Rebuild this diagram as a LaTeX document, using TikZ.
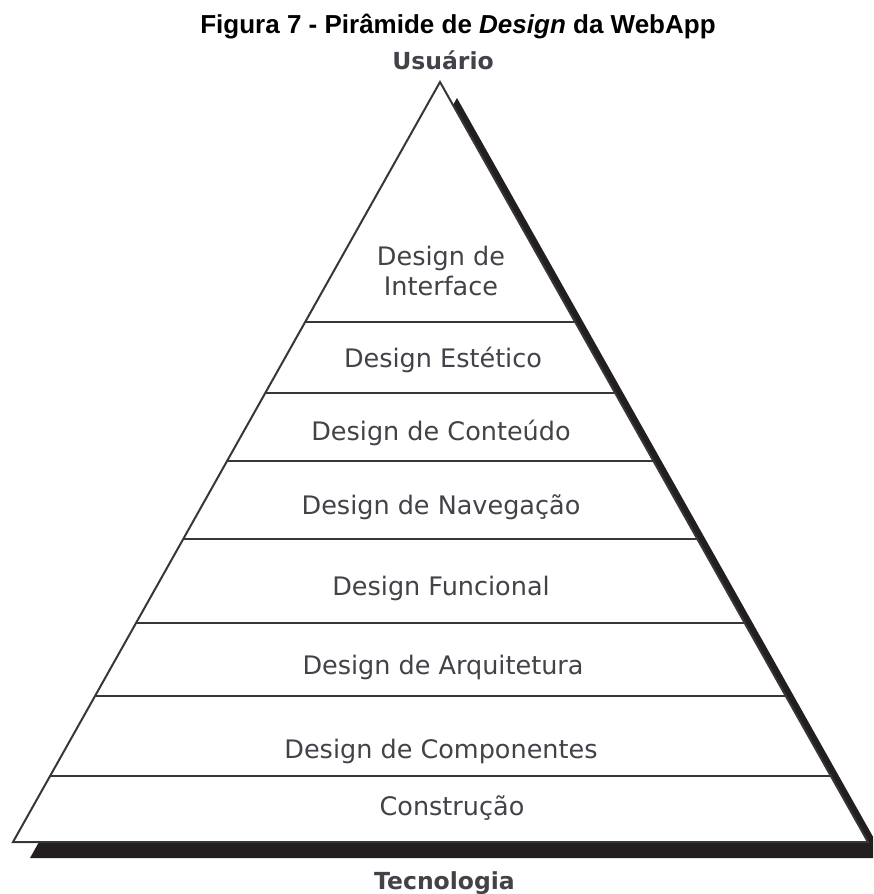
\documentclass[tikz,border=0pt]{standalone}
\usepackage{fontspec}
\usetikzlibrary{calc}
\newfontfamily\labfont{DejaVu Sans}
\newfontfamily\ttlfont{Liberation Sans}
\definecolor{txtgray}{RGB}{66,66,72}
\definecolor{linegray}{RGB}{55,55,55}
\definecolor{shadowblk}{RGB}{35,31,32}
\tikzset{
  layerlabel/.style={anchor=base, text=txtgray, inner sep=0pt, align=center,
    font=\labfont\fontsize{25.5}{29.5}\selectfont},
  endlabel/.style={anchor=base, text=txtgray, inner sep=0pt,
    font=\labfont\bfseries\fontsize{23.5}{28}\selectfont},
  titlelabel/.style={anchor=base, text=black, inner sep=0pt,
    font=\ttlfont\bfseries\fontsize{26}{30}\selectfont},
  divider/.style={draw=linegray, line width=2pt},
  pyramid/.style={draw=linegray, line width=2pt, fill=white, line join=miter},
  shadow/.style={fill=shadowblk, draw=none}
}
\begin{document}
\begin{tikzpicture}[x=1pt, y=-1pt]
\useasboundingbox (0,0) rectangle (873,894);
\begin{scope}
\clip (0,0) rectangle (873,894);
% corners
\coordinate (apex) at (440,82);
\coordinate (bl) at (13,842);
\coordinate (br) at (868,842);
% shadow
\fill[shadow] ($(apex)+(17,16)$) -- ($(bl)+(17,16)$) -- ($(br)+(17,16)$) -- cycle;
% pyramid
\draw[pyramid] (apex) -- (bl) -- (br) -- cycle;
% dividers
\foreach \t [count=\i] in {0.3158,0.4092,0.4987,0.6013,0.7118,0.8079,0.9132}{
  \coordinate (l\i) at ($(apex)!\t!(bl)$);
  \coordinate (r\i) at ($(apex)!\t!(br)$);
  \draw[divider] (l\i) -- (r\i);
}
\end{scope}
% labels
\node[titlelabel] (title) at (458,33) {Figura 7 - Pirâmide de \textit{Design} da WebApp};
\node[endlabel] (user) at (443,69) {Usuário};
\node[endlabel] (tech) at (444.5,889) {Tecnologia};
\node[layerlabel] (interface) at (441,295) {Design de\\Interface};
\node[layerlabel] (estetico) at (443,367) {Design Estético};
\node[layerlabel] (conteudo) at (441,440) {Design de Conteúdo};
\node[layerlabel] (navegacao) at (441,514) {Design de Navegação};
\node[layerlabel] (funcional) at (441,595) {Design Funcional};
\node[layerlabel] (arquitetura) at (443,674) {Design de Arquitetura};
\node[layerlabel] (componentes) at (441,758) {Design de Componentes};
\node[layerlabel] (construcao) at (452,815) {Construção};
\end{tikzpicture}
\end{document}
